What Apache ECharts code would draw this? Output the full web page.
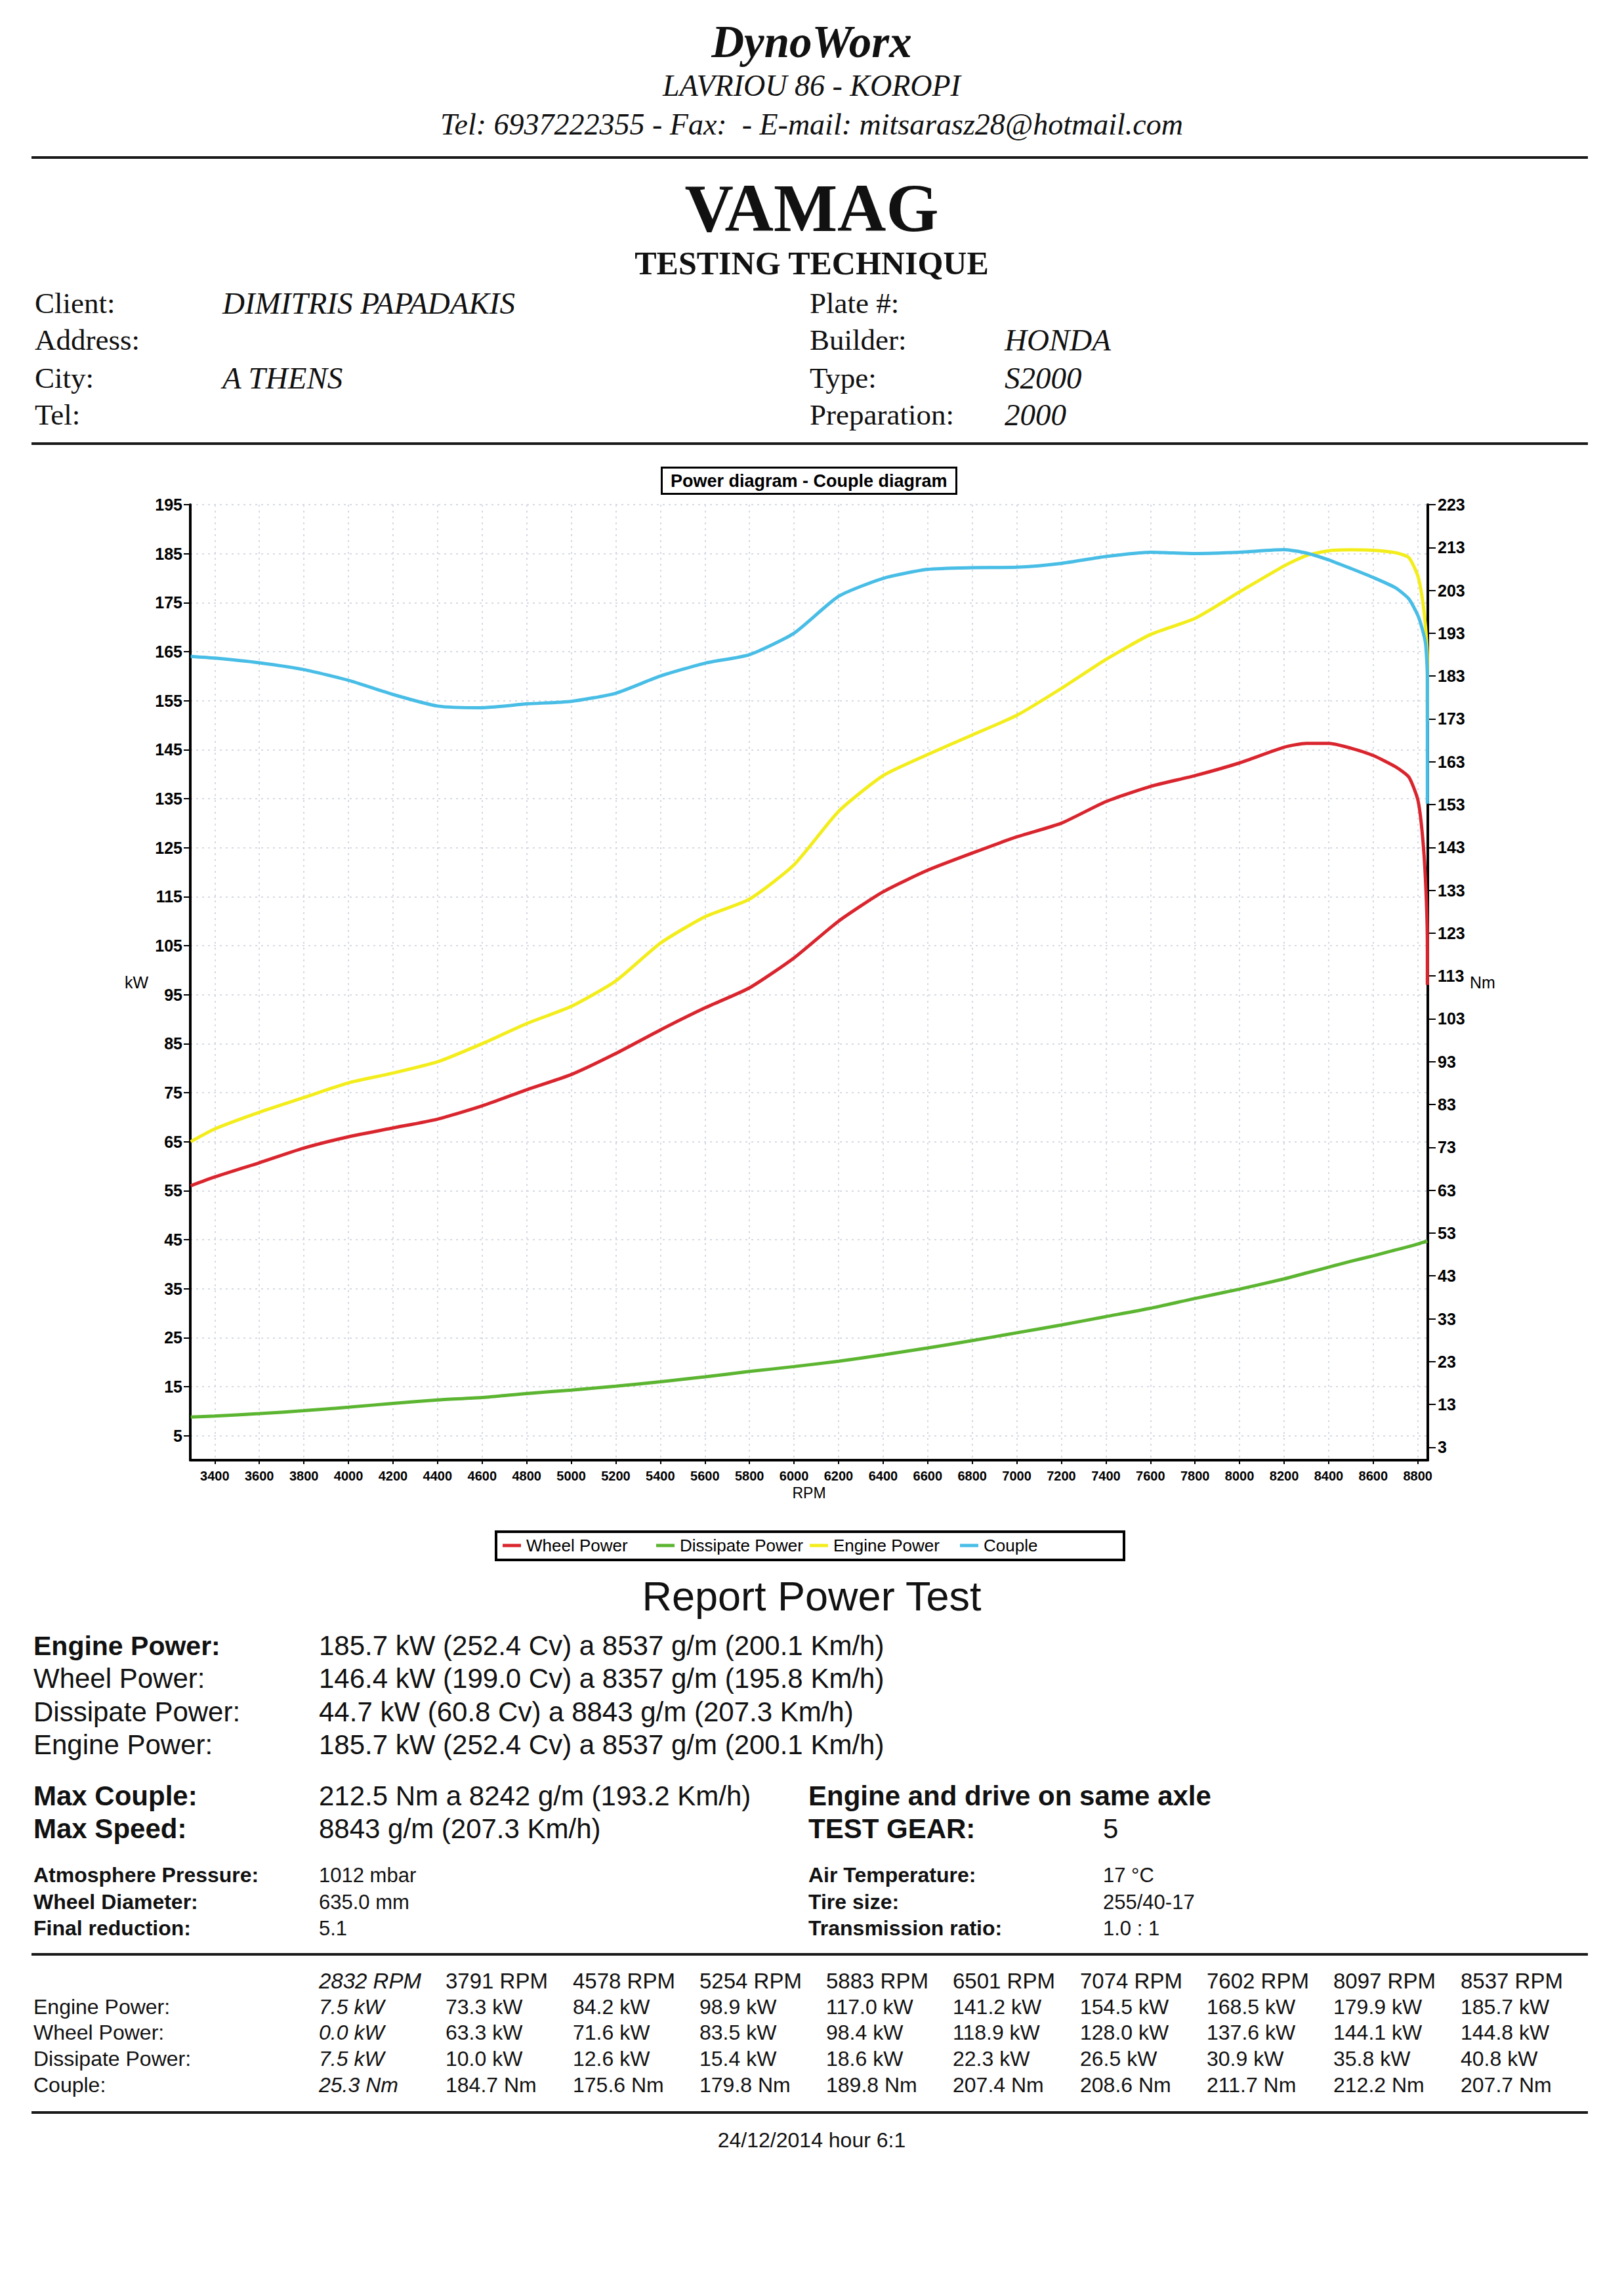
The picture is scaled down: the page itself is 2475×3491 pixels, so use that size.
<!DOCTYPE html>
<html><head><meta charset="utf-8">
<script src="https://cdn.jsdelivr.net/npm/echarts@6/dist/echarts.min.js"></script>
<style>
html,body{margin:0;padding:0;background:#fff;}
#page{position:relative;width:2475px;height:3491px;overflow:hidden;background:#fff;}
#chart{position:absolute;left:0;top:0;width:2475px;height:3491px;z-index:1;}
.t{position:absolute;white-space:nowrap;line-height:1;transform:translateY(-50%);color:#111;z-index:2;}
.c{transform:translate(-50%,-50%);}
.serif{font-family:'Liberation Serif','Times New Roman',serif;}
.sans{font-family:'Liberation Sans',Arial,sans-serif;}
.b{font-weight:bold;} .i{font-style:italic;}
.rule{position:absolute;left:48px;width:2372px;height:4px;background:#1a1a1a;z-index:2;}
</style></head>
<body><div id="page">
<div id="chart"></div>

<div class="t c serif b i" style="left:1237px;top:64px;font-size:69px;">DynoWorx</div>
<div class="t c serif i" style="left:1237px;top:131px;font-size:46px;">LAVRIOU 86 - KOROPI</div>
<div class="t c serif i" style="left:1237px;top:190px;font-size:46px;">Tel: 6937222355 - Fax:&nbsp; - E-mail: mitsarasz28@hotmail.com</div>
<div class="rule" style="top:238px;"></div>
<div class="t c serif b" style="left:1237px;top:317px;font-size:103px;">VAMAG</div>
<div class="t c serif b" style="left:1237px;top:401px;font-size:50px;">TESTING TECHNIQUE</div>

<div class="t serif" style="left:53px;top:462px;font-size:45px;">Client:</div>
<div class="t serif i" style="left:339px;top:462px;font-size:47px;">DIMITRIS PAPADAKIS</div>
<div class="t serif" style="left:53px;top:518px;font-size:45px;">Address:</div>
<div class="t serif" style="left:53px;top:576px;font-size:45px;">City:</div>
<div class="t serif i" style="left:339px;top:576px;font-size:47px;">A THENS</div>
<div class="t serif" style="left:53px;top:632px;font-size:45px;">Tel:</div>
<div class="t serif" style="left:1234px;top:462px;font-size:45px;">Plate #:</div>
<div class="t serif" style="left:1234px;top:518px;font-size:45px;">Builder:</div>
<div class="t serif i" style="left:1531px;top:518px;font-size:47px;">HONDA</div>
<div class="t serif" style="left:1234px;top:576px;font-size:45px;">Type:</div>
<div class="t serif i" style="left:1531px;top:576px;font-size:47px;">S2000</div>
<div class="t serif" style="left:1234px;top:632px;font-size:45px;">Preparation:</div>
<div class="t serif i" style="left:1531px;top:632px;font-size:47px;">2000</div>
<div class="rule" style="top:674px;"></div>

<div class="t c sans" style="left:1237px;top:2432px;font-size:63px;">Report Power Test</div>
<div class="t sans b" style="left:51px;top:2508px;font-size:41px;">Engine Power:</div>
<div class="t sans" style="left:486px;top:2508px;font-size:42px;">185.7 kW (252.4 Cv) a 8537 g/m (200.1 Km/h)</div>
<div class="t sans" style="left:51px;top:2558px;font-size:42px;">Wheel Power:</div>
<div class="t sans" style="left:486px;top:2558px;font-size:42px;">146.4 kW (199.0 Cv) a 8357 g/m (195.8 Km/h)</div>
<div class="t sans" style="left:51px;top:2609px;font-size:42px;">Dissipate Power:</div>
<div class="t sans" style="left:486px;top:2609px;font-size:42px;">44.7 kW (60.8 Cv) a 8843 g/m (207.3 Km/h)</div>
<div class="t sans" style="left:51px;top:2659px;font-size:42px;">Engine Power:</div>
<div class="t sans" style="left:486px;top:2659px;font-size:42px;">185.7 kW (252.4 Cv) a 8537 g/m (200.1 Km/h)</div>

<div class="t sans b" style="left:51px;top:2737px;font-size:42px;">Max Couple:</div>
<div class="t sans" style="left:486px;top:2737px;font-size:42px;">212.5 Nm a 8242 g/m (193.2 Km/h)</div>
<div class="t sans b" style="left:51px;top:2787px;font-size:42px;">Max Speed:</div>
<div class="t sans" style="left:486px;top:2787px;font-size:42px;">8843 g/m (207.3 Km/h)</div>
<div class="t sans b" style="left:1232px;top:2737px;font-size:42px;">Engine and drive on same axle</div>
<div class="t sans b" style="left:1232px;top:2787px;font-size:42px;">TEST GEAR:</div>
<div class="t sans" style="left:1681px;top:2787px;font-size:42px;">5</div>

<div class="t sans b" style="left:51px;top:2857px;font-size:32px;">Atmosphere Pressure:</div>
<div class="t sans" style="left:486px;top:2857px;font-size:31px;">1012 mbar</div>
<div class="t sans b" style="left:51px;top:2898px;font-size:32px;">Wheel Diameter:</div>
<div class="t sans" style="left:486px;top:2898px;font-size:31px;">635.0 mm</div>
<div class="t sans b" style="left:51px;top:2938px;font-size:32px;">Final reduction:</div>
<div class="t sans" style="left:486px;top:2938px;font-size:31px;">5.1</div>
<div class="t sans b" style="left:1232px;top:2857px;font-size:32px;">Air Temperature:</div>
<div class="t sans" style="left:1681px;top:2857px;font-size:31px;">17 °C</div>
<div class="t sans b" style="left:1232px;top:2898px;font-size:32px;">Tire size:</div>
<div class="t sans" style="left:1681px;top:2898px;font-size:31px;">255/40-17</div>
<div class="t sans b" style="left:1232px;top:2938px;font-size:32px;">Transmission ratio:</div>
<div class="t sans" style="left:1681px;top:2938px;font-size:31px;">1.0 : 1</div>
<div class="rule" style="top:2976px;"></div>

<div id="table"></div>
<div class="rule" style="top:3217px;"></div>
<div class="t c sans" style="left:1237px;top:3261px;font-size:32px;">24/12/2014 hour 6:1</div>
</div>

<script>
// ---------- DATA ----------
const rpmTicks = [3400, 3600, 3800, 4000, 4200, 4400, 4600, 4800, 5000, 5200, 5400, 5600, 5800, 6000, 6200, 6400, 6600, 6800, 7000, 7200, 7400, 7600, 7800, 8000, 8200, 8400, 8600, 8800];
const kwTicks = [5, 15, 25, 35, 45, 55, 65, 75, 85, 95, 105, 115, 125, 135, 145, 155, 165, 175, 185, 195];
const nmTicks = [3, 13, 23, 33, 43, 53, 63, 73, 83, 93, 103, 113, 123, 133, 143, 153, 163, 173, 183, 193, 203, 213, 223];

const rpm = [3292, 3400, 3600, 3800, 4000, 4200, 4400, 4600, 4800, 5000, 5200, 5400, 5600, 5800, 6000, 6200, 6400, 6600, 6800, 7000, 7200, 7400, 7600, 7800, 8000, 8200, 8300, 8400, 8500, 8600, 8700, 8760, 8800, 8820, 8835, 8843];
const wheelPower = [56.0, 57.8, 60.7, 63.7, 66.0, 67.8, 69.6, 72.3, 75.6, 78.7, 83.0, 87.8, 92.3, 96.4, 102.5, 110.0, 116.0, 120.4, 123.9, 127.2, 130.0, 134.4, 137.5, 139.7, 142.3, 145.5, 146.3, 146.3, 145.3, 143.8, 141.5, 139.4, 134.8, 128.0, 118.0, 105.0];
const dissipatePower = [8.8, 9.0, 9.5, 10.1, 10.8, 11.6, 12.3, 12.8, 13.6, 14.3, 15.1, 16.0, 17.0, 18.1, 19.1, 20.2, 21.5, 22.9, 24.4, 26.0, 27.6, 29.3, 31.0, 33.0, 34.9, 37.0, 38.2, 39.4, 40.6, 41.7, 42.9, 43.6, 44.1, 44.4, 44.6, 44.7];
const enginePower = [65.0, 67.6, 71.0, 74.0, 77.0, 79.0, 81.3, 85.0, 89.1, 92.6, 97.8, 105.5, 110.9, 114.5, 121.5, 132.4, 139.7, 144.0, 148.0, 152.0, 157.5, 163.4, 168.5, 171.8, 177.2, 182.5, 184.6, 185.6, 185.8, 185.7, 185.2, 184.2, 180.5, 176.0, 170.0, 163.0];
const couple = [187.6, 187.2, 186.1, 184.5, 182.0, 178.7, 176.0, 175.6, 176.5, 177.1, 179.0, 183.0, 186.0, 188.0, 193.0, 201.6, 205.8, 207.9, 208.3, 208.4, 209.3, 210.9, 211.9, 211.6, 211.9, 212.5, 211.7, 210.1, 208.1, 206.0, 203.6, 201.0, 197.2, 194.0, 190.5, 183.0];
// final drop readings at the last rpm (8843)
const maxRpm = 8843;
const wheelTail = [97.0];
const engineTail = [157.0, 150.8];
const coupleTail = [168.0, 153.2];

const seriesNames = ['Wheel Power', 'Dissipate Power', 'Engine Power', 'Couple'];

const tableRpm = [2832, 3791, 4578, 5254, 5883, 6501, 7074, 7602, 8097, 8537];
const tableEngine = [7.5, 73.3, 84.2, 98.9, 117.0, 141.2, 154.5, 168.5, 179.9, 185.7];
const tableWheel = [0.0, 63.3, 71.6, 83.5, 98.4, 118.9, 128.0, 137.6, 144.1, 144.8];
const tableDissipate = [7.5, 10.0, 12.6, 15.4, 18.6, 22.3, 26.5, 30.9, 35.8, 40.8];
const tableCouple = [25.3, 184.7, 175.6, 179.8, 189.8, 207.4, 208.6, 211.7, 212.2, 207.7];

// ---------- TABLE LAYOUT ----------
const colX = [486, 679, 873, 1066, 1259, 1452, 1646, 1839, 2032, 2226];
const tbl = document.getElementById('table');
function addT(txt, x, y, size, cls) {
  const d = document.createElement('div');
  d.className = 't sans ' + (cls || '');
  d.style.left = x + 'px'; d.style.top = y + 'px'; d.style.fontSize = size + 'px';
  d.textContent = txt; tbl.appendChild(d);
}
const rows = [
  {label: 'Engine Power:', vals: tableEngine, unit: ' kW', y: 3058},
  {label: 'Wheel Power:', vals: tableWheel, unit: ' kW', y: 3097},
  {label: 'Dissipate Power:', vals: tableDissipate, unit: ' kW', y: 3137},
  {label: 'Couple:', vals: tableCouple, unit: ' Nm', y: 3177}
];
tableRpm.forEach((r, i) => addT(r + ' RPM', colX[i], 3018, 33, i === 0 ? 'i' : ''));
rows.forEach(row => {
  addT(row.label, 51, row.y, 32, '');
  row.vals.forEach((v, i) => addT(v.toFixed(1) + row.unit, colX[i], row.y, 32, i === 0 ? 'i' : ''));
});

// ---------- CHART ----------
function pairs(xs, ys, tail) {
  const out = xs.map((x, i) => [x, ys[i]]);
  (tail || []).forEach(v => out.push([maxRpm, v]));
  return out;
}
const FONT = "'Liberation Sans', Arial, sans-serif";
const colors = {wheel: '#d9252e', diss: '#5cb531', engine: '#f3ed1c', couple: '#48bde6'};
const seriesColors = [colors.wheel, colors.diss, colors.engine, colors.couple];
const legendLefts = [766, 1000, 1234, 1463];

const chart = echarts.init(document.getElementById('chart'), null, {renderer: 'svg', width: 2475, height: 3491});
const axisLine = {show: true, onZero: false, lineStyle: {color: '#000', width: 4}};
const plain = v => String(v);
chart.setOption({
  animation: false,
  backgroundColor: 'transparent',
  title: {
    text: 'Power diagram - Couple diagram', left: 1008, top: 712, padding: [7, 14],
    borderColor: '#000', borderWidth: 3,
    textStyle: {fontFamily: FONT, fontWeight: 'bold', fontSize: 27, color: '#000'}
  },
  legend: seriesNames.map((n, i) => ({
    data: [n], left: legendLefts[i], top: 2342, padding: 0,
    icon: 'rect', itemWidth: 28, itemHeight: 5, selectedMode: false,
    textStyle: {fontFamily: FONT, fontSize: 26, color: '#000', padding: [0, 0, 0, 3]}
  })),
  graphic: [{type: 'rect', z: 10, shape: {x: 756, y: 2334, width: 957, height: 43},
    style: {fill: 'none', stroke: '#000', lineWidth: 4}}],
  grid: {left: 290, top: 769, width: 1886, height: 1456, containLabel: false, outerBoundsMode: 'none'},
  xAxis: {
    type: 'value', min: 3290, max: 8845,
    name: 'RPM', nameLocation: 'middle', nameGap: 38,
    nameTextStyle: {fontFamily: FONT, fontSize: 23, color: '#000'},
    axisLine: axisLine,
    axisTick: {show: true, length: 6, customValues: rpmTicks, lineStyle: {color: '#000', width: 2}},
    axisLabel: {customValues: rpmTicks, formatter: plain, margin: 14, fontFamily: FONT, fontSize: 20, fontWeight: 'bold', color: '#000'},
    splitLine: {show: true, lineStyle: {color: '#d6dae3', type: [3, 6], width: 2}}
  },
  yAxis: [{
    type: 'value', position: 'left', min: 0, max: 195,
    name: 'kW', nameLocation: 'middle', nameRotate: 0, nameGap: 64,
    nameTextStyle: {fontFamily: FONT, fontSize: 25, color: '#000'},
    axisLine: axisLine,
    axisTick: {show: true, length: 10, customValues: kwTicks, lineStyle: {color: '#000', width: 2}},
    axisLabel: {customValues: kwTicks, formatter: plain, margin: 12, fontFamily: FONT, fontSize: 25, fontWeight: 'bold', color: '#000'},
    splitLine: {show: true, lineStyle: {color: '#d6dae3', type: [3, 6], width: 2}}
  }, {
    type: 'value', position: 'right', min: 0, max: 223,
    name: 'Nm', nameLocation: 'middle', nameRotate: 0, nameGap: 64,
    nameTextStyle: {fontFamily: FONT, fontSize: 25, color: '#000'},
    axisLine: axisLine,
    axisTick: {show: true, length: 12, customValues: nmTicks, lineStyle: {color: '#000', width: 2}},
    axisLabel: {customValues: nmTicks, formatter: plain, margin: 15, fontFamily: FONT, fontSize: 25, fontWeight: 'bold', color: '#000'},
    splitLine: {show: false}
  }],
  series: [
    {name: seriesNames[0], type: 'line', yAxisIndex: 0, data: pairs(rpm, wheelPower, wheelTail)},
    {name: seriesNames[1], type: 'line', yAxisIndex: 0, data: pairs(rpm, dissipatePower)},
    {name: seriesNames[2], type: 'line', yAxisIndex: 0, data: pairs(rpm, enginePower, engineTail)},
    {name: seriesNames[3], type: 'line', yAxisIndex: 1, data: pairs(rpm, couple, coupleTail)}
  ].map((s, i) => Object.assign(s, {
    showSymbol: false, symbol: 'none', smooth: 0.2,
    lineStyle: {color: seriesColors[i], width: 5}, itemStyle: {color: seriesColors[i]}
  }))
});
</script>
</body></html>
